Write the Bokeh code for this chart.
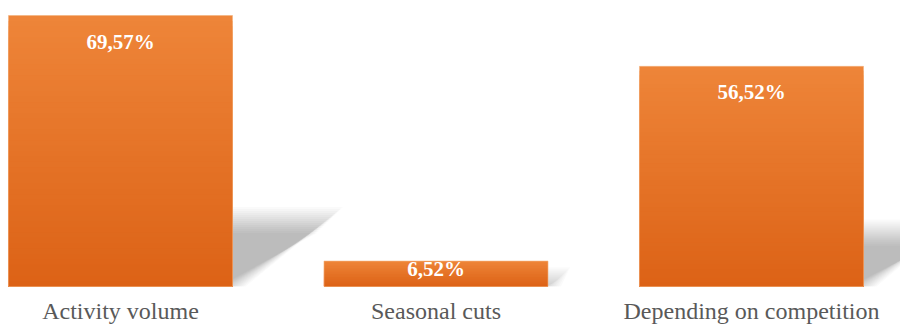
from bokeh.plotting import figure
from bokeh.models import Range1d, ColumnDataSource
from bokeh.core.properties import value
from bokeh.embed import file_html
from bokeh.resources import INLINE

categories = ["Activity volume", "Seasonal cuts", "Depending on competition"]
values = [69.57, 6.52, 56.52]
value_labels = ["69,57%", "6,52%", "56,52%"]

W, H = 900, 324
PX_PER_X = 315.5          # pixels per category step
PX_PER_Y = 3.895          # pixels per percentage point
ZERO_PX = 286             # y=0 position from top
FIRST_CENTER_PX = 120

x_start = -FIRST_CENTER_PX / PX_PER_X
x_end = (W - FIRST_CENTER_PX) / PX_PER_X
y_top = ZERO_PX / PX_PER_Y
y_bottom = -(H - ZERO_PX) / PX_PER_Y

p = figure(width=W, height=H, output_backend="svg", toolbar_location=None,
           x_range=Range1d(x_start, x_end), y_range=Range1d(y_bottom, y_top),
           min_border=0, outline_line_color=None)
p.xaxis.visible = False
p.yaxis.visible = False
p.grid.visible = False
p.background_fill_color = "white"
p.border_fill_color = "white"

xs = list(range(len(categories)))
bw = 0.71

# --- shadows (perspective, soft edges by layering) ---
sh_ratio = 0.245
dx_ratio = 0.36 * PX_PER_Y / PX_PER_X
n_layers = 14
blur_px = 13
for k in range(n_layers):
    e = -blur_px + 2 * blur_px * k / (n_layers - 1)
    sxs, sys = [], []
    for x, v in zip(xs, values):
        xl, xr = x - bw / 2, x + bw / 2
        hs = v * sh_ratio + e / PX_PER_Y
        if hs <= 0:
            continue
        dx = v * dx_ratio
        ex = e / PX_PER_X
        sxs.append([xl, xr + ex, xr + dx + ex, xl + dx])
        sys.append([0, 0, hs, hs])
    if sxs:
        p.patches(sxs, sys, fill_color="black", fill_alpha=0.018, line_color=None)

# --- gradient bars (stacked from the top colour down, so no seams) ---
def lerp(c1, c2, t):
    return "#%02x%02x%02x" % tuple(round(a + (b - a) * t) for a, b in zip(c1, c2))

top_c = (238, 133, 57)
bot_c = (220, 98, 22)
N = 50
left, right, bottom, top, color = [], [], [], [], []
for i in reversed(range(N)):
    for x, v in zip(xs, values):
        left.append(x - bw / 2)
        right.append(x + bw / 2)
        bottom.append(0)
        top.append(v * (i + 1) / N)
        color.append(lerp(bot_c, top_c, (i + 0.5) / N))
src = ColumnDataSource(dict(left=left, right=right, bottom=bottom, top=top, color=color))
p.quad(left="left", right="right", bottom="bottom", top="top", fill_color="color",
       line_color=None, source=src)
p.quad(left=[x - bw / 2 for x in xs], right=[x + bw / 2 for x in xs],
       bottom=[0] * len(xs), top=values, fill_color=None,
       line_color="#f4b07c", line_width=1, line_alpha=0.6)

# --- value labels ---
offsets = [26 if v * PX_PER_Y > 60 else 8 for v in values]
p.text(x=xs, y=values, text=value_labels, y_offset=offsets,
       text_align="center", text_baseline="alphabetic",
       text_font=value("Liberation Serif"), text_font_style="bold",
       text_font_size="21px", text_color="white")

# --- category labels ---
p.text(x=xs, y=[0] * len(xs), text=categories, y_offset=[24] * len(xs),
       text_align="center", text_baseline="alphabetic",
       text_font=value("Liberation Serif"), text_font_size="24px",
       text_color="#595959")

open("out.html", "w").write(file_html(p, INLINE))
